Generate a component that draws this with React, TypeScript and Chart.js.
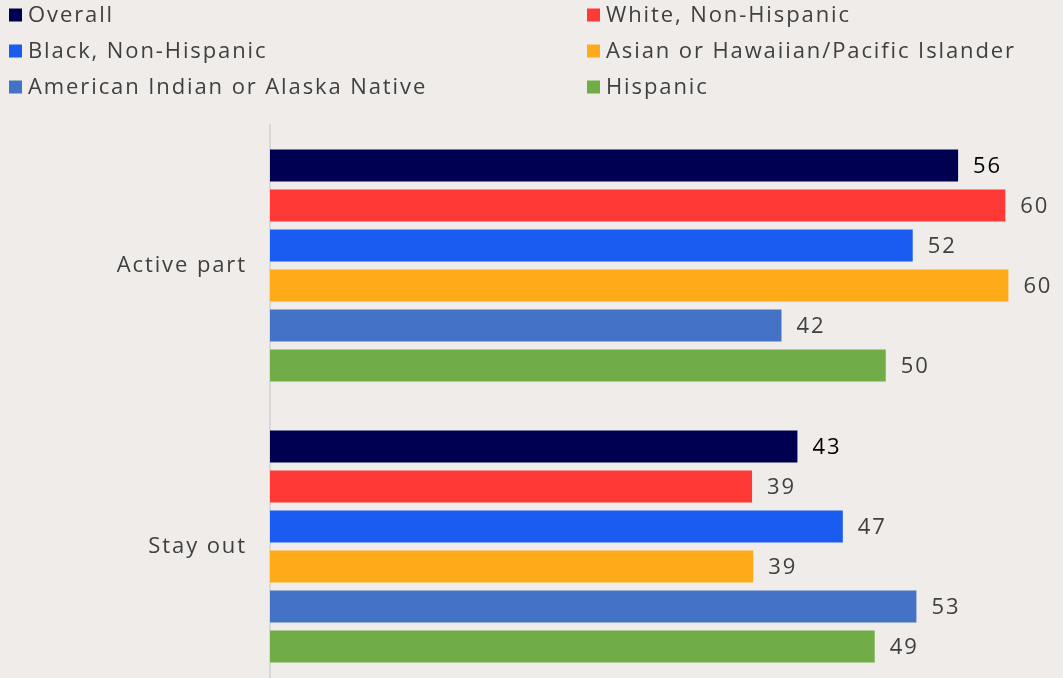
import React, { useEffect, useRef } from "react";
import { Chart, registerables } from "chart.js";

Chart.register(...registerables);

const categories = ["Active part", "Stay out"];
const seriesNames = [
  "Overall",
  "White, Non-Hispanic",
  "Black, Non-Hispanic",
  "Asian or Hawaiian/Pacific Islander",
  "American Indian or Alaska Native",
  "Hispanic",
];
const overall = [56.1, 43.0];
const white = [59.95, 39.3];
const black = [52.4, 46.7];
const asian = [60.2, 39.4];
const aian = [41.7, 52.7];
const hispanic = [50.2, 49.3];
const seriesColors = ["#000050", "#FF3A36", "#1A5CF0", "#FFAA18", "#4472C4", "#70AD47"];
const labelColors = ["#000000", "#404040", "#404040", "#404040", "#404040", "#404040"];

const FONT = "'Open Sans', sans-serif";
const SPACING = "1.9px";
const BG = "#EFECE9";

const spacingPlugin = {
  id: "letterSpacing",
  beforeDraw(chart: any) {
    chart.ctx.letterSpacing = SPACING;
  },
};

const legendPlugin = {
  id: "gridLegend",
  afterDraw(chart: any) {
    const ctx = chart.ctx;
    const colX = [9, 587];
    const rowY = [15, 51, 87];
    ctx.save();
    ctx.letterSpacing = SPACING;
    ctx.font = `22px ${FONT}`;
    ctx.textBaseline = "middle";
    ctx.textAlign = "left";
    chart.data.datasets.forEach((ds: any, i: number) => {
      const x = colX[i % 2];
      const y = rowY[Math.floor(i / 2)];
      ctx.fillStyle = ds.backgroundColor;
      ctx.fillRect(x, y - 6.5, 13, 13);
      ctx.fillStyle = "#404040";
      ctx.fillText(ds.label, x + 19, y + 1);
    });
    ctx.restore();
  },
};

const valueLabelPlugin = {
  id: "valueLabels",
  afterDatasetsDraw(chart: any) {
    const ctx = chart.ctx;
    ctx.save();
    ctx.letterSpacing = SPACING;
    ctx.font = `22px ${FONT}`;
    ctx.textBaseline = "middle";
    ctx.textAlign = "left";
    chart.data.datasets.forEach((ds: any, i: number) => {
      const meta = chart.getDatasetMeta(i);
      meta.data.forEach((bar: any, j: number) => {
        ctx.fillStyle = labelColors[i];
        ctx.fillText(String(Math.round(ds.data[j])), bar.x + 15, bar.y + 1);
      });
    });
    ctx.restore();
  },
};

export default function App() {
  const ref = useRef<HTMLCanvasElement | null>(null);
  useEffect(() => {
    document.body.style.margin = "0";
    document.body.style.background = BG;
    const all = [overall, white, black, asian, aian, hispanic];
    const chart = new Chart(ref.current!, {
      type: "bar",
      data: {
        labels: categories,
        datasets: all.map((d, i) => ({
          label: seriesNames[i],
          data: d,
          backgroundColor: seriesColors[i],
          barPercentage: 0.8,
          categoryPercentage: 0.854,
        })),
      },
      options: {
        indexAxis: "y",
        responsive: true,
        maintainAspectRatio: false,
        animation: false,
        layout: { padding: { top: 125, right: 8, left: 0, bottom: 0 } },
        plugins: { legend: { display: false }, tooltip: { enabled: false } },
        scales: {
          x: { display: false, min: 0, max: 64 },
          y: {
            grid: { display: false, drawTicks: false },
            border: { display: true, color: "#D9D9D9", width: 2 },
            ticks: { color: "#404040", font: { family: FONT, size: 22 }, padding: 23 },
            afterFit: (s: any) => {
              s.width = 270;
              s.paddingTop = 0;
              s.paddingBottom = 0;
            },
          },
        },
      },
      plugins: [spacingPlugin, legendPlugin, valueLabelPlugin],
    });
    return () => chart.destroy();
  }, []);
  return (
    <div style={{ position: "fixed", left: 0, top: 0, width: 1063, height: 678, overflow: "hidden", background: BG }}>
      <div style={{ position: "relative", width: 1063, height: 687 }}>
        <canvas ref={ref} />
      </div>
    </div>
  );
}
